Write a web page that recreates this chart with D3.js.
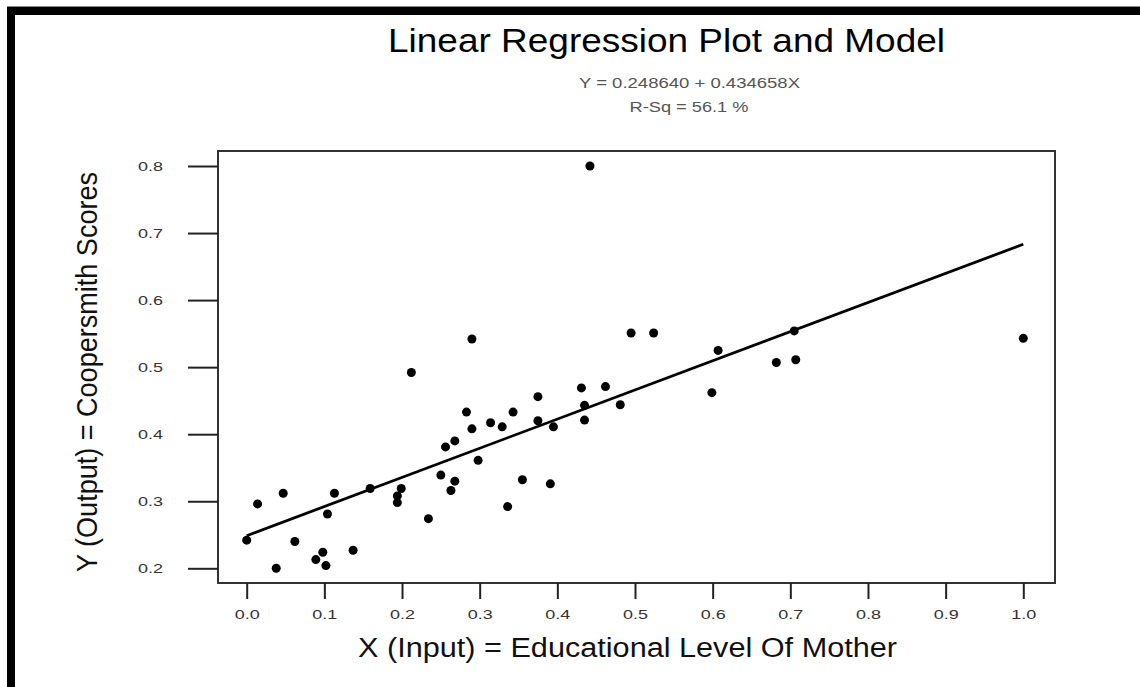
<!DOCTYPE html>
<html>
<head>
<meta charset="utf-8">
<script src="https://cdn.jsdelivr.net/npm/d3@7"></script>
<style>
  html, body { margin: 0; padding: 0; background: #fff; }
  svg { display: block; font-family: "Liberation Sans", Arial, sans-serif; }
</style>
</head>
<body>
<svg id="chart" width="1140" height="687"></svg>
<script>
// Educational level of mother (input) and Coopersmith self-esteem score (output)
const educationLevel = [
  0.000, 0.014, 0.038, 0.047, 0.062, 0.089, 0.098, 0.102, 0.104, 0.113,
  0.137, 0.159, 0.194, 0.194, 0.199, 0.212, 0.234, 0.250, 0.256, 0.263,
  0.268, 0.268, 0.283, 0.290, 0.290, 0.298, 0.314, 0.329, 0.336, 0.343,
  0.355, 0.375, 0.375, 0.391, 0.395, 0.431, 0.435, 0.435, 0.442, 0.462,
  0.481, 0.495, 0.524, 0.599, 0.607, 0.682, 0.705, 0.707, 1.000
];
const coopersmithScore = [
  0.242, 0.296, 0.200, 0.312, 0.240, 0.213, 0.224, 0.204, 0.281, 0.312,
  0.227, 0.319, 0.308, 0.298, 0.319, 0.492, 0.274, 0.339, 0.381, 0.316,
  0.390, 0.330, 0.433, 0.542, 0.408, 0.361, 0.417, 0.411, 0.292, 0.433,
  0.332, 0.456, 0.420, 0.326, 0.411, 0.469, 0.443, 0.421, 0.800, 0.471,
  0.444, 0.551, 0.551, 0.462, 0.525, 0.507, 0.554, 0.511, 0.543
];

// Fitted model: Y = intercept + slope * X
const intercept = 0.248640;
const slope = 0.434658;
const rSquaredPct = 56.1;

const xTickValues = [0.0, 0.1, 0.2, 0.3, 0.4, 0.5, 0.6, 0.7, 0.8, 0.9, 1.0];
const yTickValues = [0.2, 0.3, 0.4, 0.5, 0.6, 0.7, 0.8];

const titleText = "Linear Regression Plot and Model";
const equationText = `Y = ${intercept.toFixed(6)} + ${slope.toFixed(6)}X`;
const rsqText = `R-Sq = ${rSquaredPct.toFixed(1)} %`;
const xTitle = "X (Input) = Educational Level Of Mother";
const yTitle = "Y (Output) = Coopersmith Scores";

const svg = d3.select("#chart");

// Heavy frame along the top and left edges of the page
svg.append("rect").attr("x", 7).attr("y", 7).attr("width", 1133).attr("height", 8).attr("fill", "#000");
svg.append("rect").attr("x", 7).attr("y", 7).attr("width", 8).attr("height", 680).attr("fill", "#000");
svg.append("line").attr("x1", 7).attr("x2", 1140).attr("y1", 6.5).attr("y2", 6.5)
  .attr("stroke", "#888").attr("stroke-width", 1);

// Plot box
const box = { left: 218, top: 151, right: 1055, bottom: 583 };

const x = d3.scaleLinear().domain([0, 1]).range([246.7, 1023.3]);
const y = d3.scaleLinear().domain([0.2, 0.8]).range([568.3, 166]);

svg.append("rect")
  .attr("x", box.left).attr("y", box.top)
  .attr("width", box.right - box.left).attr("height", box.bottom - box.top)
  .attr("fill", "none").attr("stroke", "#333").attr("stroke-width", 2);

// Axes
const yAxis = d3.axisLeft(y).tickValues(yTickValues).tickFormat(d3.format(".1f"))
  .tickSize(30).tickPadding(25);
const gy = svg.append("g").attr("transform", `translate(${box.left},0)`).call(yAxis);

const xAxis = d3.axisBottom(x).tickValues(xTickValues).tickFormat(d3.format(".1f"))
  .tickSize(16).tickPadding(10);
const gx = svg.append("g").attr("transform", `translate(0,${box.bottom})`).call(xAxis);

[gx, gy].forEach(g => {
  g.select(".domain").remove();
  g.selectAll(".tick line").attr("stroke", "#222").attr("stroke-width", 2);
  g.selectAll(".tick text")
    .attr("fill", "#333")
    .attr("font-size", 13.5)
    .attr("font-family", "'Liberation Sans', Arial, sans-serif")
    .attr("textLength", 25)
    .attr("lengthAdjust", "spacingAndGlyphs");
});

// Regression line from the fitted coefficients
const fitX = d3.extent(educationLevel);
const fitLine = d3.line().x(d => x(d)).y(d => y(intercept + slope * d));
svg.append("path")
  .datum(fitX)
  .attr("d", fitLine)
  .attr("fill", "none")
  .attr("stroke", "#000")
  .attr("stroke-width", 2.8);

// Observations
svg.append("g")
  .selectAll("circle")
  .data(educationLevel.map((v, i) => [v, coopersmithScore[i]]))
  .join("circle")
  .attr("cx", d => x(d[0]))
  .attr("cy", d => y(d[1]))
  .attr("r", 4.5)
  .attr("fill", "#000");

// Titles
svg.append("text")
  .attr("x", 666.5).attr("y", 52)
  .attr("text-anchor", "middle")
  .attr("font-size", 33)
  .attr("fill", "#000")
  .attr("textLength", 557).attr("lengthAdjust", "spacingAndGlyphs")
  .text(titleText);

svg.append("text")
  .attr("x", 689.5).attr("y", 88)
  .attr("text-anchor", "middle")
  .attr("font-size", 14)
  .attr("fill", "#555")
  .attr("textLength", 221).attr("lengthAdjust", "spacingAndGlyphs")
  .text(equationText);

svg.append("text")
  .attr("x", 689).attr("y", 112)
  .attr("text-anchor", "middle")
  .attr("font-size", 14)
  .attr("fill", "#555")
  .attr("textLength", 119).attr("lengthAdjust", "spacingAndGlyphs")
  .text(rsqText);

svg.append("text")
  .attr("x", 627.5).attr("y", 657)
  .attr("text-anchor", "middle")
  .attr("font-size", 27)
  .attr("fill", "#111")
  .attr("textLength", 539).attr("lengthAdjust", "spacingAndGlyphs")
  .text(xTitle);

svg.append("text")
  .attr("transform", "translate(97,372) scale(1.12,1) rotate(-90)")
  .attr("text-anchor", "middle")
  .attr("font-size", 27)
  .attr("fill", "#111")
  .attr("textLength", 400).attr("lengthAdjust", "spacingAndGlyphs")
  .text(yTitle);
</script>
</body>
</html>
